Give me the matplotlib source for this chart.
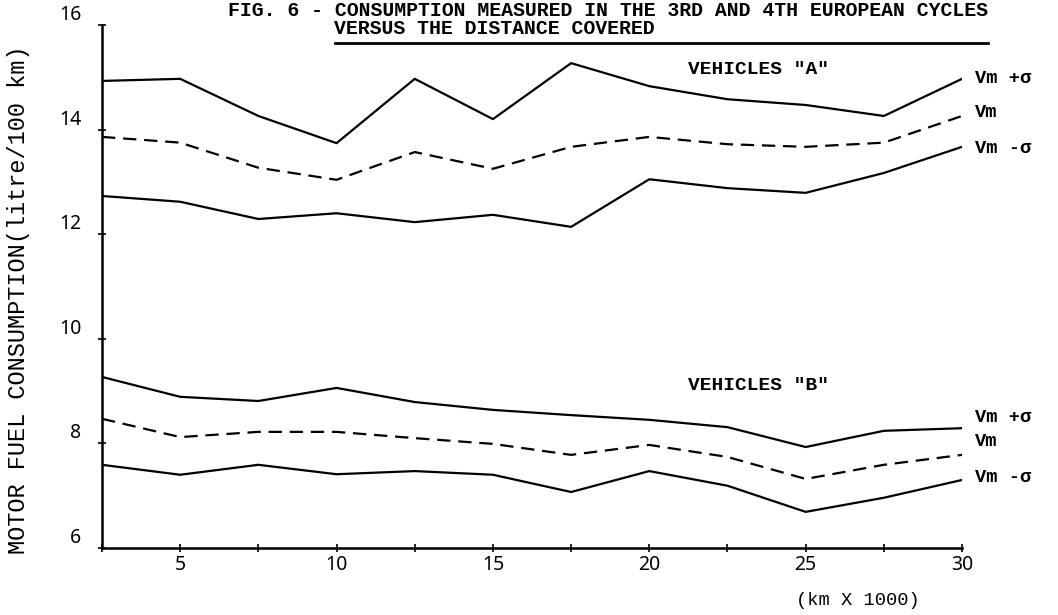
import matplotlib
matplotlib.use("Agg")
import matplotlib.pyplot as plt
import numpy as np

plt.rcParams['font.family'] = ['Liberation Mono', 'DejaVu Sans Mono']

# distance covered (km x 1000)
km = [2.5, 5, 7.5, 10, 12.5, 15, 17.5, 20, 22.5, 25, 27.5, 30]

# vehicles "A"
a_plus = [14.93, 14.97, 14.26, 13.74, 14.97, 14.20, 15.27, 14.83, 14.58, 14.47, 14.26, 14.97]
a_mean = [13.86, 13.75, 13.27, 13.04, 13.57, 13.25, 13.67, 13.86, 13.72, 13.67, 13.75, 14.26]
a_minus = [12.73, 12.62, 12.29, 12.40, 12.23, 12.37, 12.14, 13.05, 12.88, 12.79, 13.17, 13.67]

# vehicles "B"
b_plus = [9.27, 8.89, 8.81, 9.06, 8.79, 8.64, 8.54, 8.45, 8.31, 7.93, 8.24, 8.29]
b_mean = [8.47, 8.12, 8.22, 8.22, 8.10, 7.99, 7.78, 7.97, 7.74, 7.32, 7.59, 7.78]
b_minus = [7.59, 7.40, 7.59, 7.41, 7.47, 7.40, 7.07, 7.47, 7.19, 6.69, 6.96, 7.30]

yticks = [6, 8, 10, 12, 14, 16]

fig = plt.figure(figsize=(10.58, 6.15), dpi=100)
ax = fig.add_axes([0.0964, 0.109, 0.8129, 0.8504])

lw = 1.6
for vals in (a_plus, a_minus, b_plus, b_minus):
    ax.plot(km, vals, color='black', lw=lw)
for vals in (a_mean, b_mean):
    ax.plot(km, vals, color='black', lw=lw, linestyle=(0, (6, 3.5)))

ax.set_xlim(2.5, 30)
ax.set_ylim(6, 16)
ax.spines['top'].set_visible(False)
ax.spines['right'].set_visible(False)
ax.spines['left'].set_linewidth(1.8)
ax.spines['bottom'].set_linewidth(1.8)

xt = np.arange(2.5, 30.1, 2.5)
ax.set_xticks(xt)
ax.set_xticklabels(['' if v % 5 else str(int(v)) for v in xt], family='Noto Sans')
ax.set_yticks(yticks)
ax.set_yticklabels([str(v) for v in yticks], family='Noto Sans', va='bottom')
ax.tick_params(direction='inout', length=6, width=1.2, labelsize=14)
ax.tick_params(axis='x', pad=2)
ax.tick_params(axis='y', pad=12)

ax.set_ylabel('MOTOR FUEL CONSUMPTION(litre/100 km)', fontsize=17)
ax.yaxis.set_label_coords(-0.084, 0.474)
ax.text(26.66, 5.0, '(km X 1000)', fontsize=13.5, ha='center', va='center', clip_on=False)

# title
fig.text(0.575, 0.999, 'FIG. 6 - CONSUMPTION MEASURED IN THE 3RD AND 4TH EUROPEAN CYCLES',
         fontsize=14.3, fontweight='bold', ha='center', va='top')
fig.text(0.316, 0.969, 'VERSUS THE DISTANCE COVERED',
         fontsize=14.3, fontweight='bold', ha='left', va='top')
fig.add_artist(plt.Line2D([0.317, 0.934], [0.930, 0.930], color='black', lw=2))

ax.text(23.5, 15.14, 'VEHICLES "A"', fontsize=14, fontweight='bold', ha='center', va='center')
ax.text(23.5, 9.1, 'VEHICLES "B"', fontsize=14, fontweight='bold', ha='center', va='center')

labels = [('Vm +σ', 14.97), ('Vm', 14.32), ('Vm -σ', 13.63),
          ('Vm +σ', 8.5), ('Vm', 8.03), ('Vm -σ', 7.34)]
for txt, yv in labels:
    ax.text(30.4, yv, txt, fontsize=13.5, fontweight='bold', ha='left', va='center', clip_on=False)

fig.savefig('out.png', dpi=100)
